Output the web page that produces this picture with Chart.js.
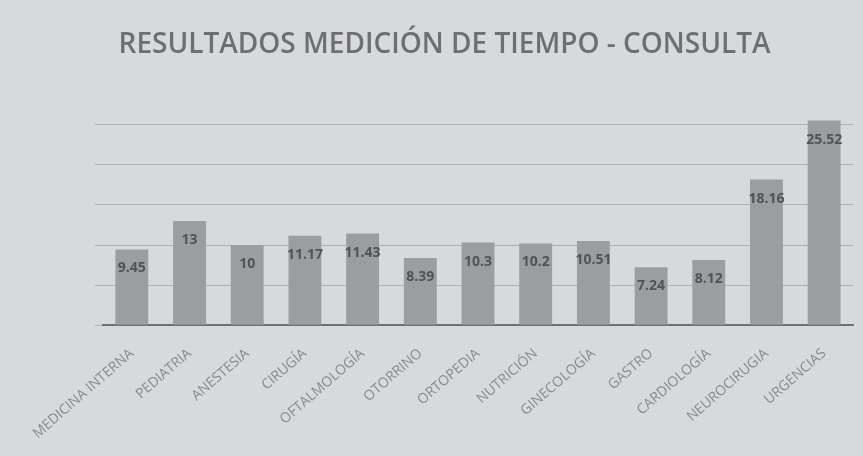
<!DOCTYPE html>
<html lang="es">
<head>
<meta charset="UTF-8">
<title>Resultados medición de tiempo</title>
<script src="https://cdn.jsdelivr.net/npm/chart.js"></script>
<style>
  html, body { margin: 0; padding: 0; background: #d8d9dd; }
  .chart-box { width: 863px; height: 456px; }
</style>
</head>
<body>
<div class="chart-box"><canvas id="tiempoChart"></canvas></div>
<script>
// datos de la consulta (minutos)
const servicios = ['MEDICINA INTERNA', 'PEDIATRIA', 'ANESTESIA', 'CIRUGÍA', 'OFTALMOLOGÍA', 'OTORRINO',
  'ORTOPEDIA', 'NUTRICIÓN', 'GINECOLOGÍA', 'GASTRO', 'CARDIOLOGÍA', 'NEUROCIRUGIA', 'URGENCIAS'];
const tiempos = [9.45, 13, 10, 11.17, 11.43, 8.39, 10.3, 10.2, 10.51, 7.24, 8.12, 18.16, 25.52];
const yTicks = [0, 5, 10, 15, 20, 25, 30];

// etiquetas dentro de la barra, cerca del extremo
const valueLabels = {
  id: 'valueLabels',
  afterDatasetsDraw(chart) {
    const ctx = chart.ctx;
    const meta = chart.getDatasetMeta(0);
    ctx.save();
    ctx.font = 'bold 14px "Open Sans", sans-serif';
    ctx.fillStyle = '#525357';
    ctx.textAlign = 'center';
    ctx.textBaseline = 'middle';
    meta.data.forEach((bar, i) => {
      ctx.fillText(String(tiempos[i]), bar.x, bar.y + 19);
    });
    ctx.restore();
  }
};

const ctx = document.getElementById('tiempoChart').getContext('2d');
new Chart(ctx, {
  type: 'bar',
  data: {
    labels: servicios,
    datasets: [{
      data: tiempos,
      backgroundColor: '#9b9da1',
      barPercentage: 0.57,
      categoryPercentage: 1.0
    }]
  },
  options: {
    responsive: true,
    maintainAspectRatio: false,
    animation: false,
    layout: { padding: { left: 36, right: 10, top: 14, bottom: 2 } },
    plugins: {
      legend: { display: false },
      tooltip: { enabled: false },
      title: {
        display: true,
        text: 'RESULTADOS MEDICIÓN DE TIEMPO - CONSULTA',
        color: '#6e6f73',
        font: { family: '"Open Sans", sans-serif', size: 28, weight: '600' },
        padding: { top: 14, bottom: 23 }
      }
    },
    scales: {
      x: {
        grid: { display: false },
        border: { display: true, color: '#6e6f73', width: 2 },
        ticks: {
          color: '#88898d',
          font: { family: '"Open Sans", sans-serif', size: 14 },
          minRotation: 41,
          maxRotation: 41,
          autoSkip: false,
          padding: 12
        }
      },
      y: {
        min: 0,
        max: 30,
        afterBuildTicks(axis) { axis.ticks = yTicks.map(v => ({ value: v })); },
        afterFit(axis) { axis.width = 67; },
        grid: { color: c => c.tick.value === 30 ? 'rgba(0,0,0,0)' : '#aeafb3', lineWidth: 1 },
        border: { display: false },
        ticks: { display: false }
      }
    }
  },
  plugins: [valueLabels]
});
</script>
</body>
</html>
